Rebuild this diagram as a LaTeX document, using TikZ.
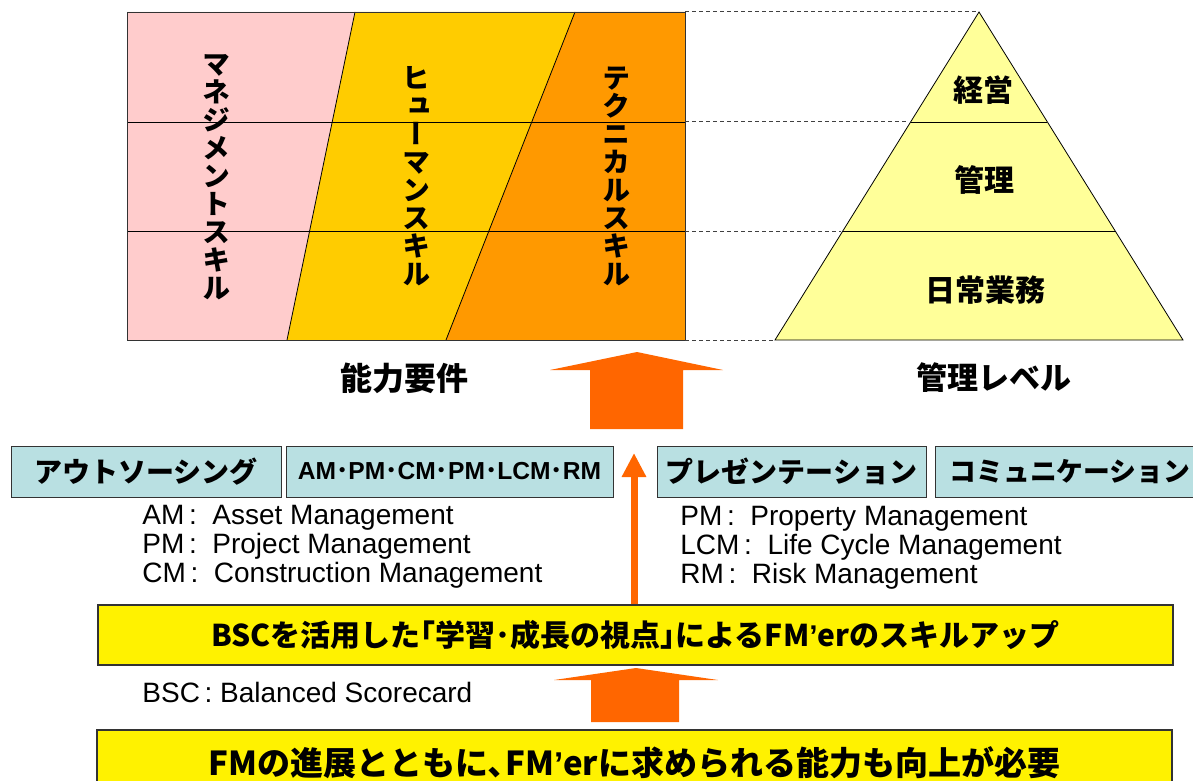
\documentclass[tikz,border=0pt]{standalone}
\usepackage{fontspec}
\setmainfont{Liberation Sans}
\newfontfamily\jp{Noto Sans CJK JP}
\newfontfamily\jpv{Noto Sans CJK JP}[RawFeature=+vert]
\usepackage{tikz}
\usetikzlibrary{arrows.meta}
\definecolor{mgmtfill}{RGB}{255,204,204}
\definecolor{humanfill}{RGB}{255,204,0}
\definecolor{techfill}{RGB}{255,153,0}
\definecolor{pyrfill}{RGB}{255,255,153}
\definecolor{tealfill}{RGB}{185,224,226}
\definecolor{arroworange}{RGB}{255,102,0}
\newcommand{\apos}{{\rmfamily\bfseries ’}}

\begin{document}
\begin{tikzpicture}[x=0.5pt,y=-0.5pt]
\tikzstyle{skillbox}=[rectangle, draw=black!80, fill=tealfill, minimum height=25.5pt, inner sep=0pt, font=\jp\bfseries\fontsize{14}{14}\selectfont]
\tikzstyle{goalbox}=[rectangle, draw=black!80, line width=0.8pt, fill=yellow, inner sep=0pt, minimum width=537.5pt]
\tikzstyle{vtext}=[align=center, inner sep=0pt, font=\jpv\bfseries\fontsize{14}{14}\selectfont]
\tikzstyle{lvl}=[inner sep=0pt, font=\jp\bfseries\fontsize{15}{15}\selectfont]
\tikzstyle{note}=[align=left, anchor=west, inner sep=0pt, font=\fontsize{14}{14.5}\selectfont]
\tikzstyle{bigarrow}=[fill=arroworange]
\tikzstyle{connect}=[-{Triangle[width=11.5pt,length=12pt]}, line width=3.5pt, arroworange]
\tikzstyle{guide}=[black!75, line width=0.5pt, dash pattern=on 2pt off 1.5pt]
\useasboundingbox (0,0) rectangle (1193,781);

	% skill columns
	\fill[mgmtfill] (127,12) -- (355,12) -- (287,340) -- (127,340) -- cycle;
	\fill[humanfill] (355,12) -- (575,12) -- (446,340) -- (287,340) -- cycle;
	\fill[techfill] (575,12) -- (685,12) -- (685,340) -- (446,340) -- cycle;
	\draw (355,12) -- (287,340) (575,12) -- (446,340);
	\draw (127,122) -- (685,122) (127,231) -- (685,231);
	\draw[black!80] (127,12) rectangle (685,340);

	% pyramid
	\draw[fill=pyrfill] (979,12) -- (1183,340) -- (775,340) -- cycle;
	\draw (911,122) -- (1047,122) (843,231) -- (1115,231);
	\draw[guide] (685,12) -- (979,12);
	\draw[guide] (685,122) -- (909,122);
	\draw[guide] (685,231) -- (841,231);
	\draw[guide] (685,340) -- (775,340);

	\node[vtext] (sk_1) at (216,177) {マ\\ネ\\ジ\\メ\\ン\\ト\\ス\\キ\\ル};
	\node[vtext] (sk_2) at (416,176) {ヒ\\ュ\\ー\\マ\\ン\\ス\\キ\\ル};
	\node[vtext] (sk_3) at (616,176) {テ\\ク\\ニ\\カ\\ル\\ス\\キ\\ル};
	\node[lvl] (lv_1) at (983,90) {経営};
	\node[lvl] (lv_2) at (984,180) {管理};
	\node[lvl] (lv_3) at (985,290) {日常業務};
	\node[lvl, font=\jp\bfseries\fontsize{16}{16}\selectfont] (cap_1) at (404,378) {能力要件};
	\node[lvl, font=\jp\bfseries\fontsize{15.5}{15.5}\selectfont] (cap_2) at (994,378) {管理レベル};

	% big arrows
	\fill[bigarrow] (637,352) -- (723,370) -- (683,370) -- (683,429) -- (590,429) -- (590,370) -- (550,370) -- cycle;
	\fill[bigarrow] (636,668) -- (718,680) -- (679,680) -- (679,722) -- (591,722) -- (591,680) -- (554,680) -- cycle;

	% skills
	\node[skillbox, minimum width=135pt] (box_1) at (146,471.5) {アウトソーシング};
	\node[skillbox, minimum width=163.5pt, font=\bfseries\fontsize{12.3}{12.3}\selectfont] (box_2) at (449.5,471.5) {AM{\jp ･}PM{\jp ･}CM{\jp ･}PM{\jp ･}LCM{\jp ･}RM};
	\node[skillbox, minimum width=134.5pt] (box_3) at (791.5,471.5) {プレゼンテーション};
	\node[skillbox, minimum width=135pt, font=\jp\bfseries\fontsize{13.4}{13.4}\selectfont] (box_4) at (1070,471.5) {コミュニケーション};

	\node[note] (nt_1) at (142,547) {AM\,:\ \ Asset Management\\PM\,:\ \ Project Management\\CM\,:\ \ Construction Management};
	\node[note] (nt_2) at (680,548) {PM\,:\ \ Property Management\\LCM\,:\ \ Life Cycle Management\\RM\,:\ \ Risk Management};
	\node[note] (nt_3) at (142,692) {BSC\,: Balanced Scorecard};

	% goals
	\node[goalbox, minimum height=30pt, font=\jp\bfseries\fontsize{15}{15}\selectfont] (goal_1) at (635.5,635) {BSCを活用した｢学習･成長の視点｣によるFM\apos erのスキルアップ};
	\node[goalbox, minimum height=33pt, font=\jp\bfseries\fontsize{16.5}{16.5}\selectfont] (goal_2) at (634.5,763) {FMの進展とともに､FM\apos erに求められる能力も向上が必要};

	\coordinate (tip) at (634,453);
	\draw[connect] (tip |- goal_1.north) -- (tip);

\end{tikzpicture}
\end{document}
